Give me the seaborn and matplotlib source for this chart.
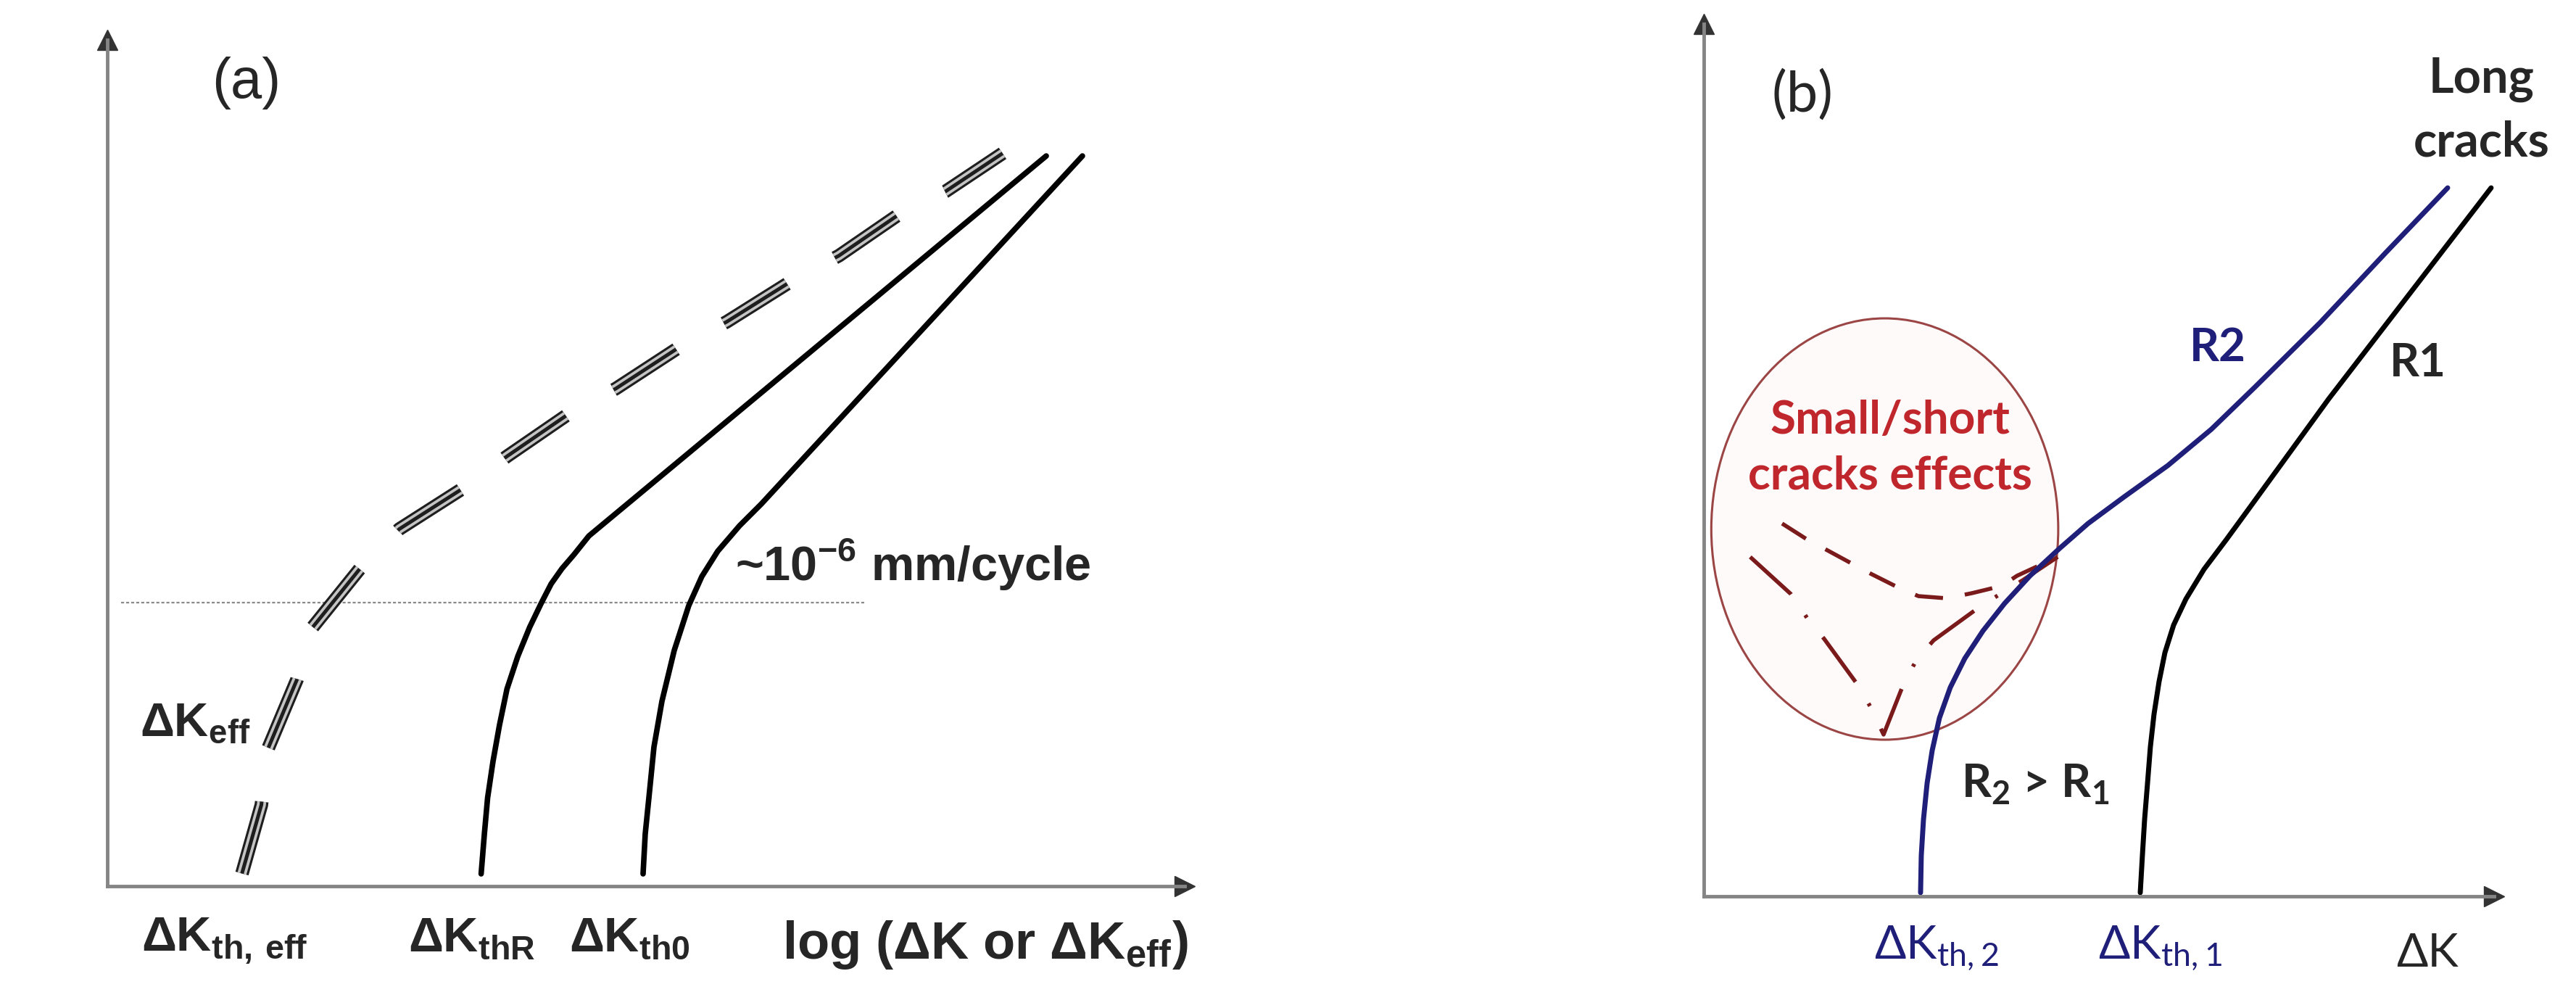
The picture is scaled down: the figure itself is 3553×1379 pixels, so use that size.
import matplotlib
matplotlib.use("Agg")
import matplotlib.pyplot as plt
from matplotlib.patches import Ellipse
import seaborn as sns

# ---------------------------------------------------------------
# Panel (a): both axes are schematic, running 0..10
# ---------------------------------------------------------------
thr_x = [3.47, 3.50, 3.53, 3.58, 3.64, 3.71, 3.81, 3.92, 4.03, 4.12, 4.22, 4.33, 4.47, 8.715]
thr_y = [0.146, 0.617, 1.045, 1.474, 1.902, 2.331, 2.716, 3.059, 3.350, 3.573, 3.753, 3.916, 4.139, 8.629]

th0_x = [4.973, 4.993, 5.027, 5.074, 5.148, 5.262, 5.397, 5.518, 5.666, 5.868, 6.070, 9.051]
th0_y = [0.146, 0.617, 1.045, 1.645, 2.185, 2.785, 3.316, 3.659, 3.959, 4.259, 4.516, 8.629]

eff_x = [1.25, 1.43, 1.49, 1.76, 1.90, 2.35, 2.71, 3.30, 3.71, 4.27,
         4.72, 5.31, 5.75, 6.35, 6.79, 7.35, 7.78, 8.31]
eff_y = [0.15, 0.96, 1.62, 2.44, 3.05, 3.76, 4.22, 4.70, 5.08, 5.57,
         5.88, 6.37, 6.67, 7.15, 7.45, 7.94, 8.21, 8.66]

rate_level = [3.35, 3.35]          # ~1e-6 mm/cycle
rate_span = [0.13, 7.04]

a_ticks = [1.09, 3.38, 4.85]
a_ticklabels = [r"ΔK$_{\mathregular{th,\,eff}}$",
                r"ΔK$_{\mathregular{thR}}$",
                r"ΔK$_{\mathregular{th0}}$"]

# ---------------------------------------------------------------
# Panel (b)
# ---------------------------------------------------------------
r2_x = [2.743, 2.752, 2.780, 2.826, 2.890, 2.982, 3.119, 3.303, 3.532, 3.807,
        4.128, 4.495, 4.862, 5.321, 5.872, 6.422, 6.972, 7.798, 8.624, 9.413]
r2_y = [0.042, 0.466, 0.881, 1.297, 1.671, 2.045, 2.394, 2.727, 3.042, 3.358,
        3.674, 3.982, 4.273, 4.580, 4.938, 5.353, 5.835, 6.575, 7.373, 8.121]

r1_x = [5.523, 5.550, 5.578, 5.615, 5.651, 5.697, 5.761, 5.835, 5.945, 6.101,
        6.330, 6.606, 6.881, 7.908, 9.963]
r1_y = [0.042, 0.466, 0.881, 1.297, 1.712, 2.086, 2.461, 2.793, 3.109, 3.408,
        3.749, 4.081, 4.422, 5.702, 8.121]

short_dash_x = [0.991, 1.294, 1.550, 1.853, 2.110, 2.440, 2.716, 3.073, 3.394, 3.771, 3.963, 4.477]
short_dash_y = [4.273, 4.098, 3.973, 3.824, 3.699, 3.549, 3.441, 3.416, 3.475, 3.558, 3.674, 3.890]

short_dashdot_x = [0.587, 1.101, 1.312, 1.523, 1.945, 2.110, 2.275, 2.532, 2.697, 2.908, 3.514, 4.037, 4.477]
short_dashdot_y = [3.890, 3.466, 3.184, 2.951, 2.427, 2.170, 1.854, 2.444, 2.718, 2.934, 3.333, 3.624, 3.890]

ellipse_center = (2.29, 4.21)
ellipse_size = (4.39, 4.83)

b_ticks = [2.94, 5.77]
b_ticklabels = [r"ΔK$_{\mathregular{th,2}}$", r"ΔK$_{\mathregular{th,1}}$"]

NAVY = "#1f1f7a"
DARKRED = "#7a1a1a"
RED = "#c0272d"
AXISGREY = "#858585"

sns.set_theme(style="white")
plt.rcParams["font.family"] = ["Liberation Sans", "DejaVu Sans"]
plt.rcParams["lines.scale_dashes"] = False


def style_axes(ax):
    """Arrowed L-shaped axes, no numeric ticks"""
    ax.set_xlim(0, 10)
    ax.set_ylim(0, 10)
    ax.set_facecolor("white")
    for side in ["top", "right"]:
        ax.spines[side].set_visible(False)
    for side in ["left", "bottom"]:
        ax.spines[side].set_color(AXISGREY)
        ax.spines[side].set_linewidth(3.5)
    ax.set_yticks([])
    ax.tick_params(axis="x", length=0)
    ax.plot(1, 0, marker=">", ms=20, color="#333333", transform=ax.transAxes, clip_on=False)
    ax.plot(0, 1, marker="^", ms=20, color="#333333", transform=ax.transAxes, clip_on=False)


def line(ax, x, y, **kws):
    sns.lineplot(x=x, y=y, sort=False, estimator=None, ax=ax, legend=False, **kws)


fig = plt.figure(figsize=(35.53, 13.79), dpi=100)
ax_a = fig.add_axes([0.04165, 0.1138, 0.41824, 0.84627])
ax_b = fig.add_axes([0.66141, 0.1037, 0.30678, 0.87237])

# ---------------- panel (a) ----------------
style_axes(ax_a)
line(ax_a, rate_span, rate_level, color="#8a8a8a", lw=1.6, linestyle=(0, (3, 2)))

# triple-line dashes for the effective curve
for lw, col in [(13.5, "#1e1e1e"), (9.0, "#c4c4c4"), (3.6, "#1e1e1e")]:
    line(ax_a, eff_x, eff_y, color=col, lw=lw, linestyle=(0, (74, 54)))

line(ax_a, thr_x, thr_y, color="black", lw=5.5)
line(ax_a, th0_x, th0_y, color="black", lw=5.5)

ax_a.set_xticks(a_ticks, a_ticklabels)
ax_a.tick_params(axis="x", pad=30, labelsize=48)
for lab in ax_a.get_xticklabels():
    lab.set_fontweight("bold")

ax_a.set_xlabel(r"log (ΔK or ΔK$_{\mathregular{eff}}$)", fontsize=52,
                fontweight="bold", va="center")
ax_a.xaxis.set_label_coords(0.815, -0.069)
ax_a.set_ylabel("log (da/dN)", fontsize=53, fontweight="bold", va="center")
ax_a.yaxis.set_label_coords(-0.055, 0.729)

ax_a.text(1.29, 9.49, "(a)", fontsize=56, ha="center", va="center")
ax_a.text(5.83, 3.80, r"~10$^{\mathregular{-6}}$ mm/cycle", fontsize=48,
          fontweight="bold", ha="left", va="center")
ax_a.text(0.30, 1.92, r"ΔK$_{\mathregular{eff}}$", fontsize=47,
          fontweight="bold", ha="left", va="center")

# ---------------- panel (b) ----------------
BFONT = ["Lato", "DejaVu Sans"]
style_axes(ax_b)

ax_b.add_patch(Ellipse(ellipse_center, *ellipse_size, fc="#fffafa",
                       ec="#9b4545", lw=2.2, zorder=1))
line(ax_b, short_dash_x, short_dash_y, color=DARKRED, lw=4.0, linestyle=(0, (28, 22)))
line(ax_b, short_dashdot_x, short_dashdot_y, color=DARKRED, lw=4.0,
     linestyle=(0, (55, 25, 3, 25)))
line(ax_b, r2_x, r2_y, color=NAVY, lw=5.0)
line(ax_b, r1_x, r1_y, color="black", lw=5.0)

ax_b.set_xticks(b_ticks, b_ticklabels)
ax_b.tick_params(axis="x", pad=28, labelsize=46)
for lab in ax_b.get_xticklabels():
    lab.set_color(NAVY)
    lab.set_fontfamily(BFONT)

ax_b.set_xlabel("ΔK", fontsize=46, family=BFONT, va="center")
ax_b.xaxis.set_label_coords(0.916, -0.066)
ax_b.set_ylabel("da/dN", fontsize=46, family=BFONT, va="center")
ax_b.yaxis.set_label_coords(-0.064, 0.849)

ax_b.text(1.25, 9.18, "(b)", fontsize=56, family=BFONT, ha="center", va="center")
ax_b.text(9.84, 9.0, "Long\ncracks", fontsize=48, family=BFONT, fontweight="bold",
          ha="center", va="center", linespacing=1.5)
ax_b.text(6.50, 6.29, "R2", fontsize=46, family=BFONT, fontweight="bold",
          color=NAVY, ha="center", va="center")
ax_b.text(9.04, 6.11, "R1", fontsize=46, family=BFONT, fontweight="bold",
          ha="center", va="center")
ax_b.text(4.19, 1.28, r"R$_{\mathregular{2}}$ > R$_{\mathregular{1}}$", fontsize=46,
          family=BFONT, fontweight="bold", ha="center", va="center")
ax_b.text(2.36, 5.14, "Small/short\ncracks effects", fontsize=46, family=BFONT,
          fontweight="bold", color=RED, ha="center", va="center", linespacing=1.4)

fig.savefig("out.png", dpi=100)
plt.close(fig)
